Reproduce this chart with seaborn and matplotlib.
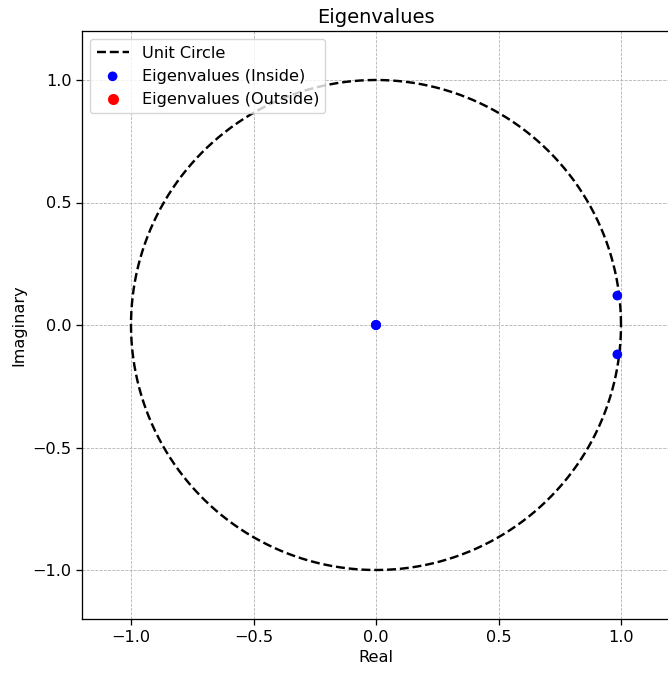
import numpy as np
import matplotlib
matplotlib.use("Agg")
import matplotlib.pyplot as plt
import seaborn as sns
import pandas as pd

# eigenvalues (inside the unit circle)
inside_real = [0.0, 0.0, 0.0, 0.0, 0.985, 0.985]
inside_imag = [0.0, 0.0, 0.0, 0.0, 0.12, -0.12]
# eigenvalues outside the unit circle (none)
outside_real = []
outside_imag = []

k = 1.16
plt.rcParams["font.size"] = 10 * k
plt.rcParams["axes.linewidth"] = 0.8 * k
plt.rcParams["xtick.major.width"] = 0.8 * k
plt.rcParams["ytick.major.width"] = 0.8 * k
plt.rcParams["xtick.major.size"] = 3.5 * k
plt.rcParams["ytick.major.size"] = 3.5 * k

theta = np.linspace(0, 2 * np.pi, 400)
circle = pd.DataFrame({"x": np.cos(theta), "y": np.sin(theta)})

fig = plt.figure(figsize=(6.68, 6.73), dpi=100)
ax = fig.add_axes([82 / 668, 54 / 673, 588 / 668, 588 / 673])

sns.lineplot(data=circle, x="x", y="y", sort=False, color="black",
             linestyle="--", linewidth=1.5 * k, label="Unit Circle", ax=ax, estimator=None)
sns.scatterplot(x=inside_real, y=inside_imag, color="blue", s=36 * k * k, edgecolor="none",
                label="Eigenvalues (Inside)", ax=ax, zorder=3)
ax.scatter(outside_real, outside_imag, color="red", s=36 * k * k, label="Eigenvalues (Outside)")

ax.set_xlim(-1.2, 1.2)
ax.set_ylim(-1.2, 1.2)
ax.set_xticks([-1.0, -0.5, 0.0, 0.5, 1.0])
ax.set_yticks([-1.0, -0.5, 0.0, 0.5, 1.0])
ax.grid(True, linestyle="--", linewidth=0.5 * k, color="#b0b0b0")
ax.set_xlabel("Real")
ax.set_ylabel("Imaginary")
ax.set_title("Eigenvalues")
ax.legend(loc="upper left")

fig.savefig("out.png", dpi=100)
